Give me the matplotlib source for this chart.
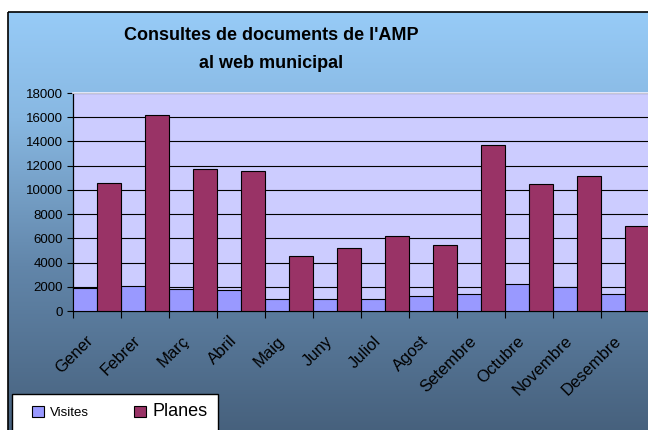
import matplotlib
matplotlib.use("Agg")
import matplotlib.pyplot as plt
import numpy as np
from matplotlib.colors import LinearSegmentedColormap
from matplotlib.patches import Rectangle

months = ["Gener", "Febrer", "Març", "Abril", "Maig", "Juny", "Juliol",
          "Agost", "Setembre", "Octubre", "Novembre", "Desembre"]
visites = [1900, 2100, 1800, 1700, 1000, 1000, 1000, 1200, 1400, 2250, 1950, 1400]
planes = [10600, 16150, 11700, 11600, 4550, 5200, 6200, 5450, 13700, 10500, 11150, 7000]
yticks = list(range(0, 18001, 2000))

plt.rcParams["font.family"] = ["Liberation Sans", "DejaVu Sans"]

W, H = 648, 430
fig = plt.figure(figsize=(W / 100, H / 100), dpi=100)
fig.patch.set_facecolor("white")

# gradient background of the chart area
bg = fig.add_axes([0, 0, 1, 1], zorder=0)
bg.set_xlim(0, W)
bg.set_ylim(H, 0)
bg.axis("off")
cmap = LinearSegmentedColormap.from_list(
    "bg", [(0.0, "#97cbf7"), (0.25, "#88b8e2"), (0.6, "#6286aa"), (1.0, "#46607c")])
grad = np.linspace(0, 1, 256).reshape(-1, 1)
bg.imshow(grad, cmap=cmap, aspect="auto", extent=(8, W + 5, H + 5, 12), zorder=0)
bg.add_patch(Rectangle((8, 12), W, H, fill=False, edgecolor="black", lw=1.2, zorder=1))

ax = fig.add_axes([73 / W, (H - 311) / H, (649 - 73) / W, (311 - 93) / H], zorder=2)
ax.set_facecolor("#ccccff")
x = np.arange(len(months))
ax.bar(x - 0.25, visites, width=0.5, color="#9999ff", edgecolor="black", lw=0.8,
       zorder=3, label="Visites")
ax.bar(x + 0.25, planes, width=0.48, color="#993366", edgecolor="black", lw=0.8,
       zorder=3, label="Planes")

ax.set_xlim(-0.5, len(months) - 0.5)
ax.set_ylim(0, 18000)
ax.set_yticks(yticks)
ax.set_yticklabels([str(v) for v in yticks], fontsize=9.5)
ax.yaxis.grid(True, color="black", lw=0.8, zorder=1)
ax.set_axisbelow(True)
ax.tick_params(axis="y", direction="out", length=4, width=0.8, pad=3)

# month labels sit slightly left of the group centre
ax.set_xticks(x - 0.25)
ax.set_xticklabels(months, rotation=45, ha="right", va="top",
                   rotation_mode="anchor", fontsize=12)
ax.tick_params(axis="x", which="major", length=0, pad=16)
ax.set_xticks(np.arange(-0.5, len(months), 1), minor=True)
ax.tick_params(axis="x", which="minor", direction="out", length=5, width=0.8)

for s in ["left", "bottom"]:
    ax.spines[s].set_color("black")
    ax.spines[s].set_linewidth(0.9)
ax.spines["right"].set_visible(False)
ax.spines["top"].set_color("#eeeeff")
ax.spines["top"].set_linewidth(1.2)

fig.text(271 / W, 1 - 35 / H, "Consultes de documents de l'AMP", ha="center",
         va="center", fontsize=13, fontweight="bold")
fig.text(271 / W, 1 - 63 / H, "al web municipal", ha="center",
         va="center", fontsize=13, fontweight="bold")

# legend box
bg.add_patch(Rectangle((12, 394), 206, 50, facecolor="white", edgecolor="black",
                       lw=1, zorder=2))
handles, labels = ax.get_legend_handles_labels()
leg = fig.legend(handles, labels, loc="center left", bbox_to_anchor=(20 / W, 1 - 412 / H),
                 ncol=2, frameon=False, handlelength=0.9, handleheight=0.9,
                 columnspacing=3.4, handletextpad=0.5, fontsize=9.5)
leg.get_texts()[1].set_fontsize(13)

fig.savefig("out.png", dpi=100)
